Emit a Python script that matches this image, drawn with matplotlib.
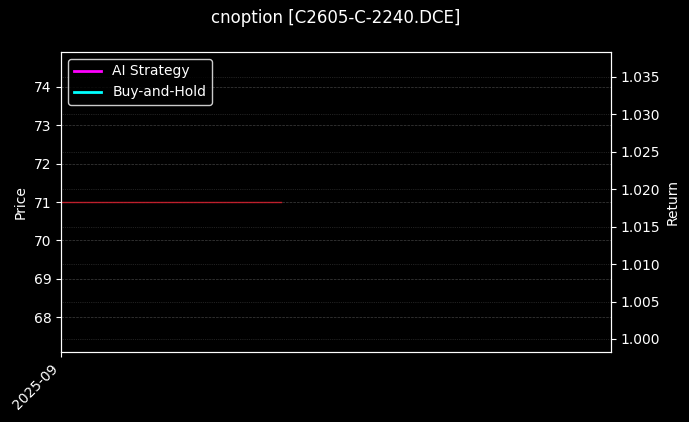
import pandas as pd
import matplotlib
matplotlib.use("Agg")
import matplotlib.pyplot as plt
import matplotlib.dates as mdates

# price series (flat at 71 for the first days)
price_dates = pd.date_range("2025-09-01", "2025-09-09", freq="D")
price_values = [71.0, 71.0, 71.0, 71.0, 71.0, 71.0, 71.0, 71.0, 71.0]

# return curves have no visible points in the picture
ai_dates = []
ai_return = []
bh_dates = []
bh_return = []

title = "cnoption [C2605-C-2240.DCE]"

plt.style.use("dark_background")
fig = plt.figure(figsize=(6.89, 4.22), dpi=100)
ax = fig.add_axes([61 / 689, 1 - 352 / 422, 550 / 689, 300 / 422])
ax2 = ax.twinx()

ax.plot(price_dates, price_values, color="#d0202e", linewidth=1, alpha=0.9)
ax2.plot(ai_dates, ai_return, color="#ff00ff", linewidth=2, label="AI Strategy")
ax2.plot(bh_dates, bh_return, color="#00ffff", linewidth=2, label="Buy-and-Hold")

ax.set_xlim(pd.Timestamp("2025-09-01"), pd.Timestamp("2025-09-21"))
ax.set_ylim(min(price_values) * 0.945, max(price_values) * 1.055)
ax2.set_ylim(0.99826, 1.0383)

ax.xaxis.set_major_locator(mdates.MonthLocator())
ax.xaxis.set_major_formatter(mdates.DateFormatter("%Y-%m"))
plt.setp(ax.get_xticklabels(), rotation=45, ha="right")

ax.set_ylabel("Price")
ax2.set_ylabel("Return")

ax.grid(True, axis="y", linestyle="--", color="grey", linewidth=0.5, alpha=0.5)
ax2.grid(True, axis="y", linestyle=":", color="grey", linewidth=0.5, alpha=0.5)

leg = ax2.legend(loc="upper left", facecolor="black", edgecolor="white")

fig.text(335.5 / 689, 1 - 18 / 422, title, ha="center", va="center", fontsize=12)

fig.savefig("out.png", dpi=100, facecolor="black")
